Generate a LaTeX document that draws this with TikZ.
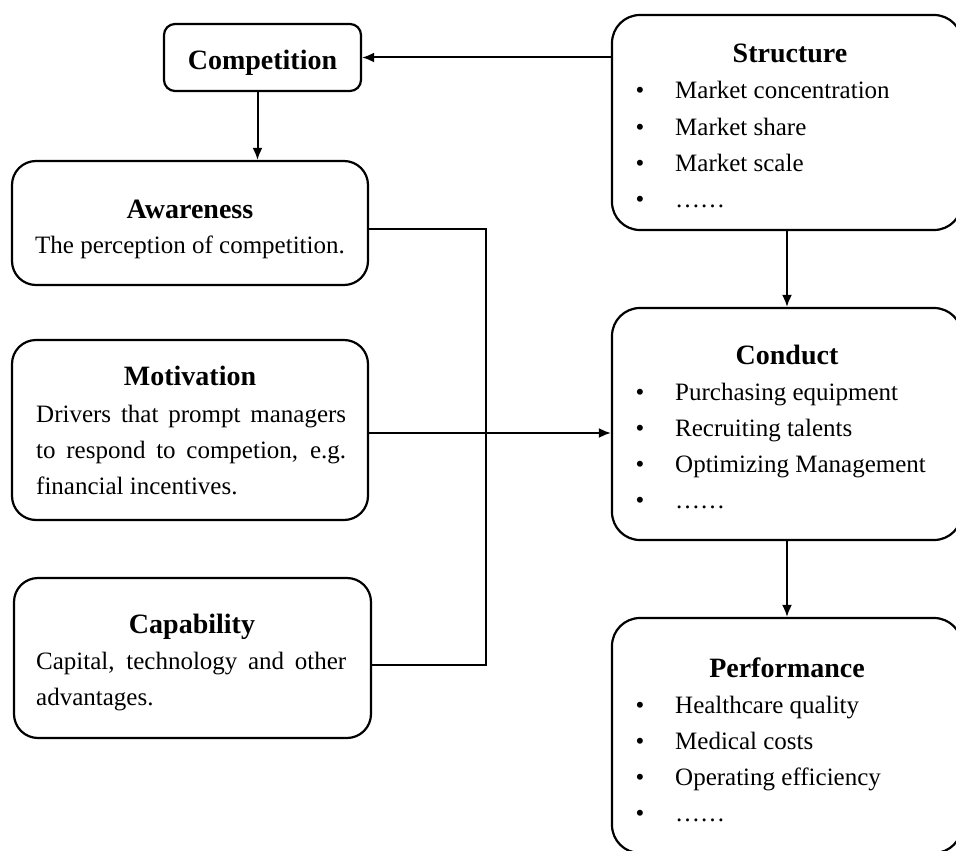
\documentclass[tikz,border=0pt]{standalone}
\usepackage{fontspec}
\setmainfont{Liberation Serif}
\usetikzlibrary{arrows.meta}

\tikzset{
	box/.style={draw, line width=2.2pt, rounded corners=24pt, inner sep=0pt},
	bigbox/.style={box, rounded corners=28pt},
	head/.style={font=\fontsize{28}{36}\selectfont\bfseries, anchor=base, inner sep=0pt},
	body/.style={font=\fontsize{25}{36}\selectfont, inner sep=0pt},
	link/.style={line width=2pt, -{Latex[length=12pt,width=10pt]}},
	wire/.style={line width=2pt}
}

\begin{document}
\begin{tikzpicture}[x=1pt,y=-1pt]
	\useasboundingbox (0,0) rectangle (956,851);

	% left column
	\node[box, rounded corners=11pt, minimum width=197pt, minimum height=67pt] (comp) at (262.5,57.5) {};
	\node[head] (comp-t) at (262.5,70) {Competition};

	\node[box, minimum width=356pt, minimum height=124pt] (aware) at (190,223) {};
	\node[head] (aware-t) at (190,218) {Awareness};
	\node[body, anchor=base] (aware-d) at (190,253) {The perception of competition.};

	\node[box, minimum width=356pt, minimum height=180pt] (motiv) at (190,430) {};
	\node[head] (motiv-t) at (190,385) {Motivation};
	\node[body, anchor=base west, text width=310pt, align=justify] (motiv-d) at (36,422)
		{Drivers that prompt managers\linebreak to respond to competion, e.g.\linebreak financial incentives.};

	\node[box, minimum width=357pt, minimum height=160pt] (capa) at (192.5,658) {};
	\node[head] (capa-t) at (192,633) {Capability};
	\node[body, anchor=base west, text width=310pt, align=justify] (capa-d) at (36,669)
		{Capital, technology and other\linebreak advantages.};

	% right column
	\node[bigbox, minimum width=350pt, minimum height=215pt] (struc) at (787,122.5) {};
	\node[head] (struc-t) at (790,63) {Structure};
	\foreach \txt [count=\i] in {Market concentration, Market share, Market scale, ……}{
		\node[body, anchor=base] (struc-b\i) at (640,63+36*\i) {•};
		\node[body, anchor=base west] (struc-i\i) at (675,63+36*\i) {\txt};
	}

	\node[bigbox, minimum width=350pt, minimum height=232pt] (cond) at (787,424) {};
	\node[head] (cond-t) at (787,364) {Conduct};
	\foreach \txt [count=\i] in {Purchasing equipment, Recruiting talents, Optimizing Management, ……}{
		\node[body, anchor=base] (cond-b\i) at (640,364+36*\i) {•};
		\node[body, anchor=base west] (cond-i\i) at (675,364+36*\i) {\txt};
	}

	\node[bigbox, minimum width=350pt, minimum height=235pt] (perf) at (787,735.5) {};
	\node[head] (perf-t) at (787,677) {Performance};
	\foreach \txt [count=\i] in {Healthcare quality, Medical costs, Operating efficiency, ……}{
		\node[body, anchor=base] (perf-b\i) at (640,677+36*\i) {•};
		\node[body, anchor=base west] (perf-i\i) at (675,677+36*\i) {\txt};
	}

	% connectors
	\coordinate (bus-top) at (486,229);
	\coordinate (bus-bot) at (486,665);
	\draw[wire] ([yshift=-6pt]aware.east) -- (bus-top) -- (bus-bot) -- ([yshift=-7pt]capa.east);
	\draw[link] (comp.east -| struc.west) -- (comp.east);
	\draw[link] ([xshift=-5pt]comp.south) -- ([xshift=-5pt]comp.south |- aware.north);
	\draw[link] ([yshift=-3pt]motiv.east) -- ([yshift=-3pt]motiv.east -| cond.west);
	\draw[link] (struc.south) -- (cond.north);
	\draw[link] (cond.south) -- (perf.north);
\end{tikzpicture}
\end{document}
